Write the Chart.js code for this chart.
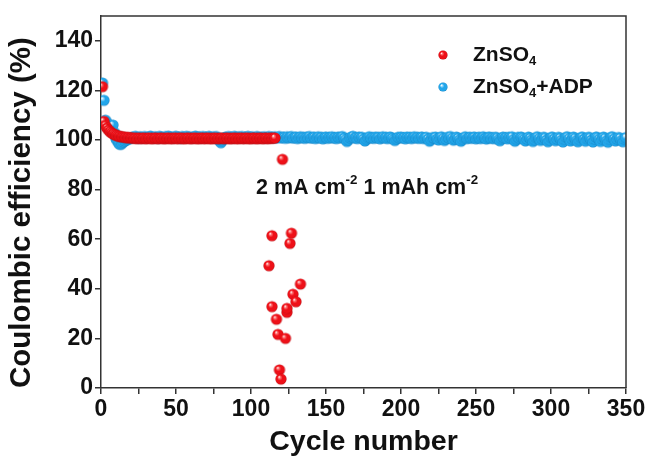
<!DOCTYPE html>
<html>
<head>
<meta charset="utf-8">
<script src="https://cdn.jsdelivr.net/npm/chart.js@4.4.0/dist/chart.umd.min.js"></script>
<style>
  body { margin: 0; background: #fff; }
  canvas { display: block; }
</style>
</head>
<body>
<canvas id="chart" width="654" height="462"></canvas>
<script>
// Coulombic efficiency vs cycle number

// ZnSO4 (cycles 1..116, before failure)
const redCE = [
  121.5, 107.5, 105.8, 104.8, 104.0, 103.4, 102.9, 102.5, 102.2, 101.9,
  101.7, 101.5, 101.4, 101.3, 101.2, 101.1, 101.0, 101.0, 100.9, 100.9,
  100.8, 100.7, 100.8, 100.6, 100.8, 100.7, 100.6, 100.8, 100.7, 100.6,
  100.7, 100.8, 100.6, 100.7, 100.6, 100.8, 100.7, 100.6, 100.7, 100.8,
  100.6, 100.7, 100.6, 100.7, 100.8, 100.6, 100.7, 100.6, 100.8, 100.7,
  100.6, 100.7, 100.8, 100.6, 100.7, 100.6, 100.7, 100.8, 100.6, 100.7,
  100.6, 100.8, 100.7, 100.6, 100.7, 100.6, 100.8, 100.7, 100.6, 100.7,
  100.8, 100.6, 100.7, 100.6, 100.7, 100.8, 100.6, 100.7, 100.6, 100.8,
  100.7, 100.6, 100.7, 100.8, 100.6, 100.7, 100.6, 100.7, 100.8, 100.6,
  100.7, 100.6, 100.8, 100.7, 100.6, 100.7, 100.8, 100.6, 100.7, 100.6,
  100.7, 100.8, 100.6, 100.7, 100.6, 100.8, 100.7, 100.6, 100.7, 100.8,
  100.6, 100.7, 100.8, 100.7, 100.8, 100.8
];
// ZnSO4 after short circuit: [cycle, CE]
const redFail = [
  [112, 49.3], [114, 61.4], [114, 32.8], [117, 27.7], [118, 21.6], [119, 7.3],
  [120, 3.6], [121, 92.2], [123, 20.0], [124, 30.5], [124, 32.1], [126, 58.3],
  [127, 62.4], [128, 37.8], [130, 34.8], [133, 41.9]
];
// ZnSO4+ADP (cycles 1..350)
const blueCE = [
  123.0, 116.0, 108.0, 107.0, 105.5, 104.5, 104.0, 106.0, 103.0, 100.5,
  99.5, 98.5, 98.2, 98.6, 99.2, 99.6, 100.0, 100.3, 100.5, 100.8,
  101.2, 100.9, 101.5, 101.0, 100.7, 101.3, 101.1, 100.8, 101.4, 101.0,
  100.9, 101.2, 101.6, 101.0, 100.8, 101.3, 101.1, 100.7, 101.5, 101.2,
  101.0, 100.8, 101.4, 101.1, 101.6, 100.9, 101.2, 100.8, 101.3, 101.5,
  101.0, 101.2, 100.7, 101.4, 101.1, 100.9, 101.5, 101.0, 101.3, 100.8,
  101.2, 101.0, 101.6, 100.9, 101.1, 101.3, 100.8, 101.4, 101.0, 101.2,
  100.9, 101.5, 101.1, 100.8, 101.3, 101.0, 101.4, 100.6, 99.6, 98.9,
  99.8, 100.7, 101.2, 100.9, 101.4, 101.0, 101.2, 100.8, 101.5, 101.1,
  100.9, 101.3, 101.0, 101.4, 100.8, 101.2, 101.0, 101.5, 100.9, 101.1,
  101.3, 100.8, 101.0, 101.4, 101.1, 100.9, 101.2, 101.0, 101.3, 100.8,
  101.1, 101.4, 100.9, 101.2, 101.0, 101.3, 100.8, 101.1, 101.4, 100.9,
  101.0, 101.2, 100.7, 101.3, 100.9, 101.1, 101.4, 100.8, 101.0, 101.2,
  100.6, 101.0, 101.3, 100.9, 101.1, 100.7, 101.2, 101.0, 101.4, 100.8,
  100.9, 101.2, 100.6, 101.0, 101.3, 100.8, 101.1, 100.5, 101.0, 101.2,
  100.7, 101.1, 100.9, 101.3, 100.8, 101.0, 100.6, 101.2, 100.9, 101.1,
  101.4, 100.8, 100.2, 99.4, 100.1, 100.9, 101.2, 101.5, 100.8, 101.0,
  100.6, 101.2, 100.9, 101.1, 100.4, 99.6, 100.3, 101.0, 101.3, 100.8,
  101.0, 100.7, 101.2, 100.9, 101.1, 100.5, 101.0, 101.3, 100.8, 101.1,
  100.6, 101.0, 101.2, 100.8, 100.3, 99.8, 100.5, 101.1, 100.9, 101.2,
  100.8, 101.0, 100.5, 101.2, 100.9, 101.1, 100.6, 101.0, 101.3, 100.8,
  101.1, 100.7, 101.0, 101.2, 100.6, 100.9, 101.1, 100.4, 99.5, 100.2,
  101.0, 100.8, 101.2, 100.5, 100.0, 100.9, 101.3, 100.6, 99.8, 100.4,
  101.1, 100.9, 101.4, 100.7, 99.9, 100.5, 101.2, 100.8, 100.1, 99.5,
  100.3, 101.0, 101.3, 100.6, 100.9, 101.1, 100.7, 101.0, 101.2, 100.5,
  100.9, 101.1, 100.6, 101.0, 101.3, 100.8, 100.4, 101.0, 101.2, 100.7,
  101.0, 100.6, 101.1, 100.9, 100.2, 99.7, 100.6, 101.2, 100.8, 101.0,
  100.5, 101.1, 100.8, 101.3, 100.2, 99.5, 100.3, 101.1, 100.7, 101.2,
  100.9, 100.3, 99.6, 100.4, 101.2, 100.8, 100.1, 99.4, 100.2, 101.0,
  101.3, 100.6, 99.8, 100.5, 101.1, 100.9, 100.0, 99.3, 100.1, 101.0,
  101.2, 100.5, 99.7, 100.4, 101.1, 100.8, 99.9, 99.2, 100.3, 101.1,
  101.3, 100.6, 99.6, 100.5, 101.2, 100.7, 99.8, 99.3, 100.2, 101.0,
  101.2, 100.4, 99.5, 100.6, 101.1, 100.9, 100.0, 99.2, 100.4, 101.2,
  101.0, 100.3, 99.4, 100.5, 101.2, 100.7, 99.7, 99.1, 100.3, 101.1,
  101.3, 100.5, 99.6, 100.4, 101.0, 100.8, 99.8, 99.3, 100.5, 101.0
];

const FONT = '"Liberation Sans", Arial, sans-serif';

// glossy sphere sprite used as point style
function sphere(r, light, base, dark) {
  const c = document.createElement('canvas');
  const s = Math.ceil(r * 2 + 2);
  c.width = s; c.height = s;
  const g = c.getContext('2d');
  const cx = s / 2, cy = s / 2;
  const grad = g.createRadialGradient(cx - r * 0.35, cy - r * 0.4, r * 0.05, cx, cy, r);
  grad.addColorStop(0, '#ffffff');
  grad.addColorStop(0.15, light);
  grad.addColorStop(0.45, base);
  grad.addColorStop(0.85, base);
  grad.addColorStop(1, dark);
  g.fillStyle = grad;
  g.beginPath();
  g.arc(cx, cy, r, 0, Math.PI * 2);
  g.fill();
  return c;
}
const redBall = sphere(5.6, '#ff8080', '#ee1018', '#b80a0e');
const blueBall = sphere(5.6, '#a6e0ff', '#22a6ea', '#1684c4');
const redKey = sphere(4.6, '#ff8080', '#ee1018', '#b80a0e');
const blueKey = sphere(4.6, '#a6e0ff', '#22a6ea', '#1684c4');

const redPts = redCE.map((v, i) => ({ x: i + 1, y: v })).concat(redFail.map(p => ({ x: p[0], y: p[1] })));
const bluePts = blueCE.map((v, i) => ({ x: i + 1, y: v }));

// draw text with sub/superscript pieces: [text, shift] where shift: 0 normal, 1 sub, -1 sup
function richText(ctx, parts, x, y, size) {
  let cx = x;
  parts.forEach(([t, s]) => {
    const fs = s === 0 ? size : size * 0.62;
    ctx.font = 'bold ' + fs + 'px ' + FONT;
    const dy = s === 1 ? size * 0.3 : s === -1 ? -size * 0.38 : 0;
    ctx.fillText(t, cx, y + dy);
    cx += ctx.measureText(t).width;
  });
}

const extras = {
  id: 'extras',
  afterDraw(chart) {
    const { ctx, chartArea: a } = chart;
    ctx.save();
    // frame top & right
    ctx.strokeStyle = '#333';
    ctx.lineWidth = 1.5;
    ctx.beginPath();
    ctx.moveTo(a.left, a.top);
    ctx.lineTo(a.right, a.top);
    ctx.lineTo(a.right, a.bottom);
    ctx.stroke();
    // legend
    ctx.fillStyle = '#111';
    ctx.textBaseline = 'middle';
    ctx.drawImage(redKey, 443 - redKey.width / 2, 55 - redKey.height / 2);
    ctx.drawImage(blueKey, 443 - blueKey.width / 2, 87 - blueKey.height / 2);
    richText(ctx, [['ZnSO', 0], ['4', 1]], 473, 55, 21);
    richText(ctx, [['ZnSO', 0], ['4', 1], ['+ADP', 0]], 473, 87, 21);
    // condition
    richText(ctx, [['2 mA cm', 0], ['-2', -1], [' 1 mAh cm', 0], ['-2', -1]], 256, 188, 21.5);
    ctx.restore();
  }
};

const ctx = document.getElementById('chart').getContext('2d');
new Chart(ctx, {
  type: 'scatter',
  data: {
    datasets: [
      { label: 'ZnSO4', data: redPts, pointStyle: redBall, pointRadius: 6, order: 1 },
      { label: 'ZnSO4+ADP', data: bluePts, pointStyle: blueBall, pointRadius: 6, order: 2 }
    ]
  },
  options: {
    responsive: false,
    animation: false,
    layout: { padding: { left: 4, right: 28, top: 16, bottom: 0 } },
    plugins: { legend: { display: false }, tooltip: { enabled: false } },
    scales: {
      x: {
        min: 0, max: 350,
        afterFit(s) { s.height = 74; },
        border: { color: '#333', width: 1.5 },
        grid: { drawOnChartArea: false, color: '#333', tickLength: 6, lineWidth: 1.5 },
        ticks: {
          stepSize: 25, padding: 2, color: '#111',
          maxRotation: 0, minRotation: 0, autoSkip: false,
          font: { family: FONT, size: 23, weight: 'bold' },
          callback: v => (v % 50 === 0 ? v : '')
        },
        title: {
          display: true, text: 'Cycle number', color: '#111',
          font: { family: FONT, size: 28.5, weight: 'bold' },
          padding: { top: 0, bottom: 3 }
        }
      },
      y: {
        min: 0, max: 150,
        afterFit(s) { s.width = 97; },
        border: { color: '#333', width: 1.5 },
        grid: { drawOnChartArea: false, color: '#333', tickLength: 6, lineWidth: 1.5 },
        ticks: {
          stepSize: 10, padding: 2, color: '#111',
          font: { family: FONT, size: 23, weight: 'bold' },
          callback: v => (v % 20 === 0 ? v : '')
        },
        title: {
          display: true, text: 'Coulombic efficiency (%)', color: '#111',
          align: 'start',
          font: { family: FONT, size: 29.5, weight: 'bold' },
          padding: { top: 0, bottom: 0 }
        }
      }
    }
  },
  plugins: [extras]
});
</script>
</body>
</html>
